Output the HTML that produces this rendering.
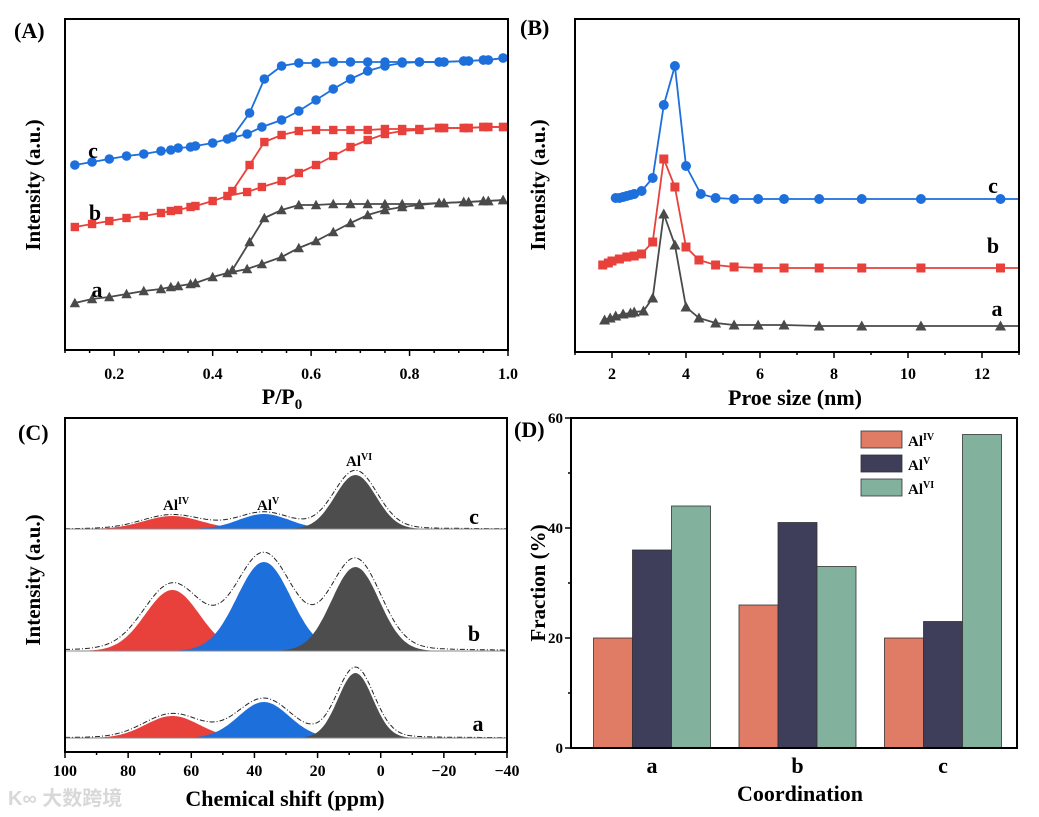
<!DOCTYPE html>
<html><head><meta charset="utf-8"><style>
html,body{margin:0;padding:0;background:#fff;}
svg{display:block;font-family:"Liberation Serif","Noto Serif CJK SC",serif;font-weight:bold;}
</style></head><body>
<svg id="fig" width="1039" height="817" viewBox="0 0 1039 817" xmlns="http://www.w3.org/2000/svg">
<text x="14" y="38" font-size="22">(A)</text>
<text x="520" y="35" font-size="22">(B)</text>
<text x="18" y="440" font-size="22">(C)</text>
<text x="514" y="437" font-size="22">(D)</text>
<text x="8" y="805" font-size="20" fill="#d8d8d8" font-family="Liberation Sans, 'Noto Sans CJK SC', sans-serif">K∞ 大数跨境</text>
</svg>
<script>
// ---- Panel A data ----
const aAdsX=[.12,.155,.19,.225,.26,.295,.315,.33,.355,.365,.4,.43,.47,.5,.54,.575,.61,.645,.68,.715,.75,.785,.82,.86,.87,.91,.92,.95,.96,.99];
const aDesX=[.99,.96,.95,.92,.91,.87,.86,.82,.785,.75,.715,.68,.645,.61,.575,.54,.505,.475,.44];
const cAds=[185,188,191,194,196,199,200,202,203,204,207,211,216,223,230,239,250,261,271,279,284,287,288,288,288,289,289,290,290,292];
const cDes=[292,290,290,289,289,288,288,288,288,288,288,288,288,287,287,284,271,237,213];
const bAds=[123,126,129,132,134,137,139,140,143,144,149,154,158,163,169,177,185,194,203,210,216,219,220,222,222,222,222,223,223,223];
const bDes=[223,223,223,222,222,222,222,221,221,221,220,220,220,220,219,215,208,185,159];
const aAds=[47,51,53,56,59,61,63,64,66,67,73,77,81,86,93,102,109,118,127,135,140,143,145,147,147,148,148,149,149,150];
const aDes=[150,149,149,148,148,147,147,146,146,146,146,146,146,145,145,140,132,108,80];
const aTicks=[0.2,0.4,0.6,0.8,1.0];
// ---- Panel B data ----
const pcX=[2.1,2.2,2.3,2.4,2.5,2.6,2.8,3.1,3.4,3.7,4.0,4.4,4.8,5.3,5.95,6.65,7.6,8.75,10.35,12.5];
const pcY=[154,154,155,156,157,158,161,174,247,286,186,158,154,153,153,153,153,153,153,153];
const pbX=[1.75,1.9,2.0,2.2,2.4,2.6,2.8,3.1,3.4,3.7,4.0,4.35,4.8,5.3,5.95,6.65,7.6,8.75,10.35,12.5];
const pbY=[87,89,91,93,95,96,98,110,193,165,105,92,87,85,84,84,84,84,84,84];
const paX=[1.8,1.95,2.1,2.3,2.5,2.6,2.85,3.1,3.4,3.7,4.0,4.35,4.8,5.3,5.95,6.65,7.6,8.75,10.35,12.5];
const paY=[32,34,36,38,39,40,41,54,138,107,45,34,29,27,27,27,26,26,26,26];
const bTicks=[2,4,6,8,10,12];
// ---- Panel C data (centers ppm, heights, widths) ----
const nmrCenters=[66,37,8];
const nmrHeightsC=[13,15,54], nmrSigmaC=[9,8,6.5];
const nmrHeightsB=[61,89,84], nmrSigmaB=[8.5,8.5,7.5];
const nmrHeightsA=[22,36,65], nmrSigmaA=[8.5,8,5.5];
const cTicks=[100,80,60,40,20,0,-20,-40];
// ---- Panel D data ----
const dCats=['a','b','c'];
const dIV=[20,26,20], dV=[36,41,23], dVI=[44,33,57];
const dTicks=[0,20,40,60];

const svg=document.getElementById('fig');
const NS='http://www.w3.org/2000/svg';
function mk(tag,attrs,parent){const e=document.createElementNS(NS,tag);for(const k in attrs)e.setAttribute(k,attrs[k]);(parent||svg).appendChild(e);return e;}
function txt(s,x,y,size,anchor,parent){const t=mk('text',{x:x,y:y,'font-size':size,'text-anchor':anchor||'middle'},parent);t.textContent=s;return t;}
function lin(d0,d1,r0,r1){return v=>r0+(v-d0)/(d1-d0)*(r1-r0);}

function frame(x0,y0,x1,y1,name){const r=mk('rect',{x:x0,y:y0,width:x1-x0,height:y1-y0,fill:'none',stroke:'#000','stroke-width':2});

}
function ytitle(s,x,y,name){const t=mk('text',{x:x,y:y,'font-size':21,'text-anchor':'middle',transform:`rotate(-90 ${x} ${y})`});t.textContent=s;

}

function marker(g,shape,x,y,color,r){
 if(shape==='circle')mk('circle',{cx:x,cy:y,r:r,fill:color},g);
 else if(shape==='square')mk('rect',{x:x-r,y:y-r,width:2*r,height:2*r,fill:color},g);
 else mk('polygon',{points:`${x},${y-r-1} ${x-r-1},${y+r} ${x+r+1},${y+r}`,fill:color},g);
}
function series(xs,ys,sx,sy,color,shape,r,name,extendTo){
 const g=mk('g',{});
 
 
 let pts=xs.map((x,i)=>[sx(x),sy(ys[i])]);
 let lp=pts.slice(); if(extendTo!==undefined)lp.push([extendTo,lp[lp.length-1][1]]);
 mk('polyline',{points:lp.map(p=>p.join(',')).join(' '),fill:'none',stroke:color,'stroke-width':1.8},g);
 pts.forEach(p=>marker(g,shape,p[0],p[1],color,r));
}

// ---------- Panel A ----------
{const X0=65,X1=508,Y0=19,Y1=350;
 const sx=lin(0.1,1.0,X0,X1), sy=v=>Y1-v;
 const blue='#1d6fdc',red='#e8413c',gray='#4a4a4a';
 series(aAdsX,cAds,sx,sy,blue,'circle',4.8,'isotherm-c-adsorption');
 series(aDesX,cDes,sx,sy,blue,'circle',4.8,'isotherm-c-desorption');
 series(aAdsX,bAds,sx,sy,red,'square',4.2,'isotherm-b-adsorption');
 series(aDesX,bDes,sx,sy,red,'square',4.2,'isotherm-b-desorption');
 series(aAdsX,aAds,sx,sy,gray,'tri',4.2,'isotherm-a-adsorption');
 series(aDesX,aDes,sx,sy,gray,'tri',4.2,'isotherm-a-desorption');
 frame(X0,Y0,X1,Y1,'panel-a-frame');
 for(let v=0.1;v<=1.001;v+=0.05){const x=sx(v);const maj=aTicks.some(t=>Math.abs(t-v)<1e-6);mk('line',{x1:x,x2:x,y1:Y1,y2:Y1+(maj?6:3),stroke:'#000','stroke-width':1.5});}
 aTicks.forEach(t=>txt(t.toFixed(1),sx(t),379,16));
 const xt=txt('P/P',282,404,22);const s=mk('tspan',{'font-size':15,dy:5},xt);s.textContent='0';
 
 ytitle('Intensity (a.u.)',40,185,'y-axis-title-a');
 txt('c',93,158,22);txt('b',95,220,22);txt('a',97,297,22);}

// ---------- Panel B ----------
{const X0=575,X1=1019,Y0=19,Y1=352;
 const sx=lin(1,13,X0,X1), sy=v=>Y1-v;
 series(pcX,pcY,sx,sy,'#1d6fdc','circle',5,'pore-c',X1);
 series(pbX,pbY,sx,sy,'#e8413c','square',4.5,'pore-b',X1);
 series(paX,paY,sx,sy,'#4a4a4a','tri',4.5,'pore-a',X1);
 frame(X0,Y0,X1,Y1,'panel-b-frame');
 for(let v=1;v<=13;v++){const x=sx(v);const maj=v%2===0;mk('line',{x1:x,x2:x,y1:Y1,y2:Y1+(maj?6:3),stroke:'#000','stroke-width':1.5});}
 bTicks.forEach(t=>txt(String(t),sx(t),379,16));
 const xt=txt('Proe size (nm)',795,405,22);
 
 ytitle('Intensity (a.u.)',545,185,'y-axis-title-b');
 txt('c',993,193,22);txt('b',993,253,22);txt('a',997,316,22);}

// ---------- Panel C ----------
{const X0=65,X1=507,Y0=418,Y1=752;
 const sx=lin(100,-40,X0,X1);
 const cols=['#e8413c','#1d6fdc','#4d4d4d'];
 function spectrum(base,H,S,name){
  const g=mk('g',{});
  
  
  nmrCenters.forEach((c,i)=>{let d=`M${sx(100)},${base}`;
   for(let p=100;p>=-40;p-=0.5){d+=` L${sx(p).toFixed(1)},${(base-H[i]*Math.exp(-((p-c)**2)/(2*S[i]**2))).toFixed(1)}`;}
   d+=` L${sx(-40)},${base} Z`;mk('path',{d:d,fill:cols[i]},g);});
  let d='';
  for(let p=100;p>=-40;p-=0.5){let v=0;nmrCenters.forEach((c,i)=>{v+=H[i]*1.03*Math.exp(-((p-c)**2)/(2*(S[i]*1.05)**2))+H[i]*0.05/(1+((p-c)/(S[i]*2.5))**2);});
   d+=(d?' L':'M')+sx(p).toFixed(1)+','+(base-v).toFixed(1);}
  mk('path',{d:d,fill:'none',stroke:'#222','stroke-width':1,'stroke-dasharray':'5,2,1,2'},g);
  mk('line',{x1:X0,x2:X1,y1:base,y2:base,stroke:'#888','stroke-width':1},g);
 }
 spectrum(529,nmrHeightsC,nmrSigmaC,'spectrum-c');
 spectrum(651,nmrHeightsB,nmrSigmaB,'spectrum-b');
 spectrum(738,nmrHeightsA,nmrSigmaA,'spectrum-a');
 frame(X0,Y0,X1,Y1,'panel-c-frame');
 for(let v=100;v>=-40;v-=10){const x=sx(v);const maj=v%20===0;mk('line',{x1:x,x2:x,y1:Y1,y2:Y1+(maj?6:3),stroke:'#000','stroke-width':1.5});}
 cTicks.forEach(t=>txt(t<0?'\u2212'+(-t):String(t),sx(t),776,16));
 const xt=txt('Chemical shift (ppm)',285,806,22);
 
 ytitle('Intensity (a.u.)',40,580,'y-axis-title-c');
 function al(s,x,y){const t=txt('Al',x,y,15,'start');const sp=mk('tspan',{'font-size':10,dy:-6},t);sp.textContent=s;}
 al('IV',163,510);al('V',257,510);al('VI',346,466);
 txt('c',474,524,22);txt('b',474,641,22);txt('a',478,731,22);}

// ---------- Panel D ----------
{const X0=571,X1=1017,Y0=418,Y1=748;
 const sy=lin(0,60,Y1,Y0);
 const cx=i=>652+i*145.5, bw=39;
 const cols=['#e07b65','#3e3d5a','#82b29e'];
 [dIV,dV,dVI].forEach((arr,s)=>arr.forEach((v,i)=>{
  const r=mk('rect',{x:cx(i)-1.5*bw+s*bw,y:sy(v),width:bw,height:Y1-sy(v),fill:cols[s],stroke:'#333','stroke-width':0.8});
  
  }));
 frame(X0,Y0,X1,Y1,'panel-d-frame');
 for(let v=0;v<=60;v+=10){const y=sy(v);const maj=v%20===0;mk('line',{x1:X0,x2:X0-(maj?6:3),y1:y,y2:y,stroke:'#000','stroke-width':1.5});}
 dTicks.forEach(t=>txt(String(t),563,sy(t)+5,15,'end'));
 dCats.forEach((c,i)=>txt(c,cx(i),773,22));
 const xt=txt('Coordination',800,801,22);
 
 ytitle('Fraction (%)',545,583,'y-axis-title-d');
 const names=['IV','V','VI'];
 names.forEach((n,k)=>{const y=431+k*24;
  const g=mk('g',{});
  
  
  mk('rect',{x:861,y:y,width:41,height:17,fill:cols[k],stroke:'#333','stroke-width':0.8},g);
  const t=txt('Al',908,y+15,15,'start',g);const sp=mk('tspan',{'font-size':10,dy:-6},t);sp.textContent=n;});}
</script>
</body></html>
